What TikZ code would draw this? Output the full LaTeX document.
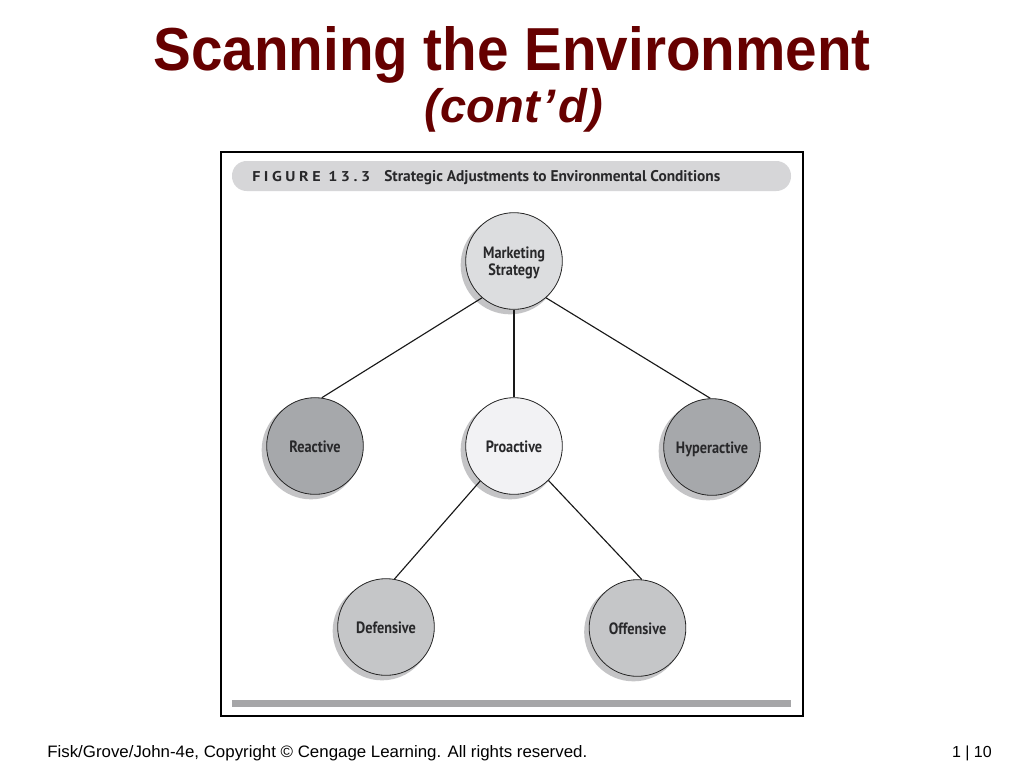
\documentclass[tikz,border=0pt]{standalone}
\usepackage{fontspec}
\setmainfont{Liberation Sans}
\newfontfamily\ptb{PT Sans}
\newfontfamily\ptsp[LetterSpace=22]{PT Sans}
\usepackage{graphicx}
\definecolor{titlered}{RGB}{102,0,0}
\definecolor{msfill}{RGB}{220,221,223}
\definecolor{darkfill}{RGB}{166,168,171}
\definecolor{profill}{RGB}{242,242,244}
\definecolor{midfill}{RGB}{197,198,200}
\definecolor{shadowc}{RGB}{196,196,198}
\definecolor{barfill}{RGB}{214,214,216}
\definecolor{lowbar}{RGB}{166,166,168}
\definecolor{labtext}{RGB}{40,40,42}
\newcommand{\circlab}[1]{\raisebox{-2pt}[\height][\depth]{\scalebox{0.87}[1]{\begin{tabular}{@{}c@{}}#1\end{tabular}}}}
\tikzset{
  circnode/.style={circle, draw=black!85, line width=0.6pt, minimum size=72.5pt, inner sep=0pt,
    font=\ptb\bfseries\fontsize{12.3}{12.75}\selectfont, text=labtext, align=center},
  conn/.style={draw=black!90, line width=0.85pt},
  shade/.style={fill=shadowc}
}
\begin{document}
\begin{tikzpicture}[x=0.75pt,y=-0.75pt]
\useasboundingbox (0,0) rectangle (1024,768);
\fill[white] (0,0) rectangle (1024,768);
% title
\node[anchor=base, inner sep=0pt, text=titlered] (title) at (512,70)
  {\resizebox{537.75pt}{33pt}{\bfseries Scanning the Environment}};
\node[anchor=base, inner sep=0pt, text=titlered] (sub) at (514,122)
  {\resizebox{133.5pt}{!}{\bfseries\itshape (cont\kern0.06em’\kern0.06em d)}};
% frame
\draw[black, line width=1.1pt] (221,152) rectangle (803,716);
\fill[barfill, rounded corners=11pt] (232,161) rectangle (791,191);
\node[anchor=base west, inner sep=0pt, text=labtext] (fig) at (252,181.7)
  {\resizebox{88.5pt}{7.6pt}{\ptsp\bfseries FIGURE 13.3}};
\node[anchor=base west, inner sep=0pt, text=labtext] (cap) at (384,181.7)
  {\resizebox{252pt}{8.3pt}{\ptb\bfseries Strategic Adjustments to Environmental Conditions}};
\fill[lowbar] (232,700) rectangle (791,707);
% shadows
\foreach \x/\y in {514/261, 315/446, 514/446, 712/447, 386/627, 637.5/628}
  \fill[shade] (\x-4,\y+4) circle[radius=37pt];
% circles
\node[circnode, fill=msfill] (ms) at (514,261) {\circlab{Marketing\\Strategy}};
\node[circnode, fill=darkfill] (re) at (315,446) {\circlab{Reactive}};
\node[circnode, fill=profill] (pro) at (514,446) {\circlab{Proactive}};
\node[circnode, fill=darkfill] (hy) at (712,447) {\circlab{Hyperactive}};
\node[circnode, fill=midfill] (de) at (386,627) {\circlab{Defensive}};
\node[circnode, fill=midfill] (of) at (637.5,628) {\circlab{Offensive}};
% connectors
\draw[conn] (ms.229) -- (re.82);
\draw[conn] (ms.311) -- (hy.92);
\draw[conn] (ms.south) -- (pro.north);
\draw[conn] (pro.226) -- (de.80);
\draw[conn] (pro.315) -- (of.85);
% footer
\node[anchor=base west, inner sep=0pt] (foot) at (47,757)
  {\resizebox{405pt}{9pt}{Fisk/Grove/John-4e, Copyright © Cengage Learning. All rights reserved.}};
\node[anchor=base east, inner sep=0pt, font=\fontsize{12}{14}\selectfont] (page) at (992,757) {1 | 10};
\end{tikzpicture}
\end{document}
